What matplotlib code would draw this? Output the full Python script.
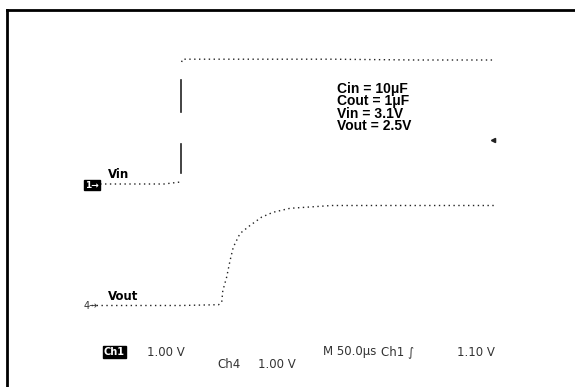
import numpy as np
import matplotlib
matplotlib.use("Agg")
import matplotlib.pyplot as plt
from matplotlib.lines import Line2D

# Scope capture: Vin (Ch1) and Vout (Ch4), 50 us/div, 1 V/div
# time in us, voltage in V (each trace relative to its own ground marker)
vin_low_t = [24, 60, 100, 119.5]
vin_low_v = [0.0, 0.0, 0.0, 0.05]
vin_high_t = [121, 122, 200, 300, 400, 494]
vin_high_v = [3.05, 3.12, 3.12, 3.12, 3.1, 3.1]
# solid pieces of the rising edge that the scope drew
vin_edge_t = 120.5
vin_edge_pieces = [(1.8, 2.6), (0.28, 1.0)]

vout_t = [14, 60, 120, 165, 168.7, 170, 174.6, 178.6, 182.5, 190.5, 202.4,
          216.3, 229.8, 250, 300, 400, 494]
vout_v = [0.0, 0.0, 0.0, 0.02, 0.08, 0.37, 0.71, 1.12, 1.46, 1.8, 2.0,
          2.21, 2.33, 2.43, 2.5, 2.5, 2.5]

trig_level = 1.1
notes = ["Cin = 10\u03bcF", "Cout = 1\u03bcF", "Vin = 3.1V", "Vout = 2.5V"]

# pixel mapping of the screen
W, H = 575, 387
x0_px, px_per_us = 80, 0.84
vin_gnd_px, vout_gnd_px, px_per_v = 184, 305.5, 40

def vin_y(v):
    return (vout_gnd_px - vin_gnd_px) / px_per_v + np.asarray(v)

fig = plt.figure(figsize=(W / 100, H / 100), dpi=100)
ax = fig.add_axes([0, 0, 1, 1])
ax.set_xlim(-x0_px / px_per_us, (W - x0_px) / px_per_us)
ax.set_ylim((vout_gnd_px - H) / px_per_v, vout_gnd_px / px_per_v)
ax.axis("off")

dot = dict(color="#222222", lw=1.0, ls=(0, (1, 2.5)))
ax.plot(vin_low_t, vin_y(vin_low_v), **dot)
ax.plot(vin_high_t, vin_y(vin_high_v), **dot)
for lo, hi in vin_edge_pieces:
    ax.plot([vin_edge_t, vin_edge_t], vin_y([lo, hi]), color="#222222", lw=1.2)
ax.plot(vout_t, vout_v, **dot)

# trigger level marker
ax.plot([vout_t[-1] - 2], vin_y([trig_level]), marker="<", ms=3, color="#222222")

def px(x, y):
    return x / W, 1 - y / H

fs = dict(family="DejaVu Sans", fontsize=8.5, color="#333333", va="center")
fig.text(*px(92, 185), "1\u2192", ha="center", fontsize=6.5, color="white",
         fontweight="bold", va="center",
         bbox=dict(boxstyle="square,pad=0.1", fc="black", ec="black"))
fig.text(*px(91, 306), "4\u2192", ha="center", fontsize=7, color="#333333",
         va="center")
fig.text(*px(108, 175), "Vin", fontsize=8.5, fontweight="bold", va="center")
fig.text(*px(108, 296), "Vout", fontsize=8.5, fontweight="bold", va="center")

fig.text(*px(337, 82), "\n".join(notes), family="Liberation Sans",
         fontsize=10, fontweight="bold", va="top", linespacing=0.86)

fig.text(*px(104, 352), "Ch1", fontsize=7, color="white", fontweight="bold",
         va="center", bbox=dict(boxstyle="square,pad=0.1", fc="black", ec="black"))
fig.text(*px(147, 352), "1.00 V", **fs)
fig.text(*px(217, 364), "Ch4", **fs)
fig.text(*px(258, 364), "1.00 V", **fs)
fig.text(*px(323, 352), "M 50.0\u03bcs", **fs)
fig.text(*px(381, 352), "Ch1 \u222b", **fs)
fig.text(*px(457, 352), "1.10 V", **fs)

# frame lines of the screenshot
fig.add_artist(Line2D([6.5 / W, 1], [1 - 10 / H] * 2, color="black", lw=2))
fig.add_artist(Line2D([6.5 / W] * 2, [0, 1 - 10 / H], color="black", lw=2))

fig.savefig("out.png", dpi=100)
